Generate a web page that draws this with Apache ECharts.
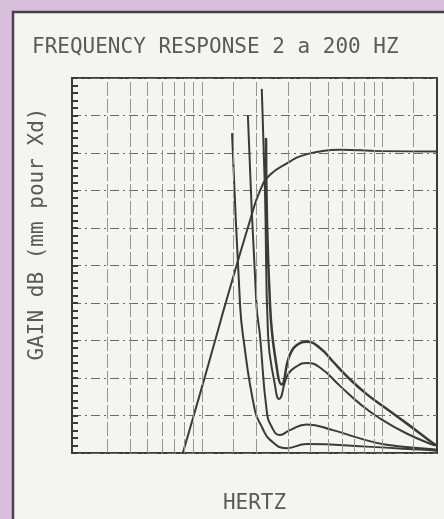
<!DOCTYPE html>
<html>
<head>
<meta charset="utf-8">
<script src="https://cdn.jsdelivr.net/npm/echarts@6/dist/echarts.min.js"></script>
<style>
  html, body { margin: 0; padding: 0; background: #d8bfdc; }
  #chart { width: 444px; height: 519px; }
</style>
</head>
<body>
<div id="chart"></div>
<script>
// frequences des lignes verticales de la grille (Hz)
const gridFreqs = [3, 4, 5, 6, 7, 8, 9, 10, 15, 20, 30, 40, 50, 60, 70, 80, 90, 100, 150]

// courbe montante (reponse) : [Hz, gain]
const curveRise = [
  [7.84, 0], [9.75, 1.57], [12.07, 3.14], [13.42, 3.93], [18.5, 6.2],
  [21.0, 6.99], [23.9, 7.42], [30.8, 7.77], [35.0, 7.91],
  [45.2, 8.04], [58.4, 8.09], [97.5, 8.05], [202, 8.04],
]

// courbes d'excursion
const curveA = [
  [22.7, 8.4], [23.9, 3.93], [26.4, 2.09], [27.7, 1.83], [30.8, 2.62],
  [35.0, 2.93], [38.2, 2.97], [45.2, 2.8], [53.4, 2.44], [63.7, 2.05],
  [82.2, 1.57], [106, 1.18], [137, 0.79], [192, 0.26], [202, 0.21],
]
const curveB = [
  [21.5, 9.71], [22.4, 6.99], [23.3, 3.14], [25.4, 1.83], [26.8, 1.44],
  [30.0, 2.09], [33.6, 2.31], [38.2, 2.4], [45.2, 2.28], [58.4, 1.79],
  [75.5, 1.31], [97.5, 0.92], [137, 0.52], [192, 0.22], [202, 0.2],
]
const curveC = [
  [18.0, 9.0], [20.1, 3.93], [21.0, 3.14], [22.9, 1.13], [24.4, 0.7],
  [27.1, 0.48], [30.8, 0.61], [38.2, 0.76], [53.4, 0.61], [75.5, 0.39],
  [106, 0.22], [192, 0.1], [202, 0.09],
]
const curveD = [
  [14.7, 8.53], [16.3, 3.93], [16.9, 3.14], [19.7, 1.13], [21.5, 0.7],
  [23.9, 0.35], [29.5, 0.13], [38.2, 0.24], [82.2, 0.17], [163, 0.09],
  [202, 0.06],
]

const plotFont = '"DejaVu Sans Mono", monospace'
const ink = '#3a3a3a'

const chart = echarts.init(document.getElementById('chart'))

const curve = (name, data, width) => ({
  name,
  type: 'line',
  data,
  smooth: 0.5,
  showSymbol: false,
  z: 3,
  lineStyle: { color: ink, width: width || 2 },
})

const option = {
  backgroundColor: '#d8bfdc',
  animation: false,
  graphic: [
    {
      // feuille blanche
      type: 'rect',
      z: -10,
      shape: { x: 13, y: 12, width: 440, height: 520 },
      style: { fill: '#f4f4f2', stroke: '#4a3f4d', lineWidth: 2.5 },
    },
    {
      type: 'text',
      x: 38,
      y: 234,
      rotation: Math.PI / 2,
      style: {
        text: 'GAIN dB (mm pour Xd)',
        font: '21px ' + plotFont,
        fill: '#5a5a5a',
        textAlign: 'center',
        textVerticalAlign: 'middle',
      },
    },
  ],
  title: {
    text: 'FREQUENCY RESPONSE 2 a 200 HZ',
    left: 27,
    top: 32,
    textStyle: { fontFamily: plotFont, fontSize: 21, fontWeight: 'normal', color: '#5a5a5a' },
  },
  grid: {
    left: 72,
    top: 78,
    right: 7,
    bottom: 59,
    show: true,
    borderColor: ink,
    borderWidth: 2,
    backgroundColor: 'transparent',
  },
  xAxis: {
    type: 'log',
    logBase: 10,
    min: 1.9,
    max: 202,
    name: 'HERTZ',
    nameLocation: 'middle',
    nameGap: 40,
    nameTextStyle: { fontFamily: plotFont, fontSize: 21, color: '#5a5a5a' },
    axisLine: { show: false },
    axisTick: { show: false },
    axisLabel: { show: false },
    splitLine: { show: false },
  },
  yAxis: {
    type: 'value',
    min: 0,
    max: 10,
    interval: 1,
    axisLine: { show: true, lineStyle: { color: ink, width: 2 } },
    axisTick: { show: true, inside: true, length: 6, lineStyle: { color: ink, width: 2 } },
    minorTick: { show: true, splitNumber: 5, length: 6, lineStyle: { color: ink, width: 2 } },
    axisLabel: { show: false },
    splitLine: {
      show: true,
      lineStyle: { color: '#6a6a6a', width: 1.2, type: [9, 4, 2, 4] },
    },
  },
  series: [
    {
      ...curve('reponse', curveRise),
      z: 2,
      markLine: {
        silent: true,
        symbol: 'none',
        label: { show: false },
        lineStyle: { color: '#949494', width: 1, type: [14, 3] },
        data: gridFreqs.map((f) => ({ xAxis: f })),
      },
    },
    curve('A', curveA, 2.5),
    curve('B', curveB),
    curve('C', curveC),
    curve('D', curveD),
  ],
}

chart.setOption(option)
</script>
</body>
</html>
